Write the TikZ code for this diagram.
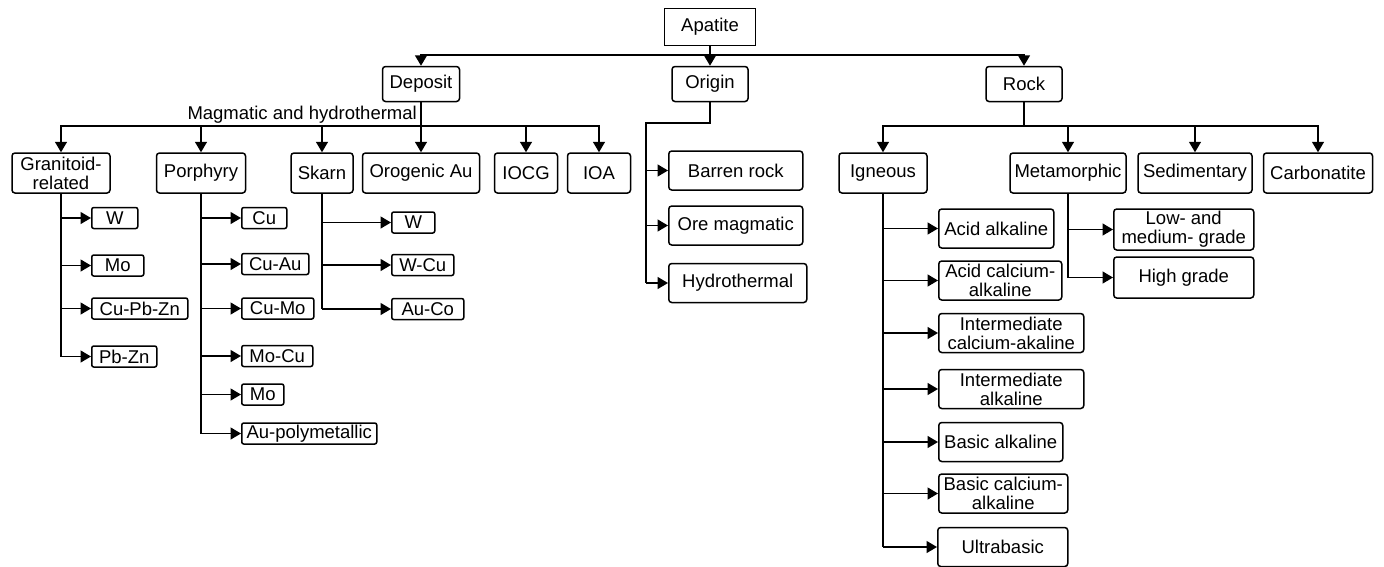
\documentclass[tikz,border=0pt]{standalone}
\usepackage{fontspec}
\setmainfont{Liberation Sans}
\usetikzlibrary{arrows.meta}
\tikzset{
  root/.style={draw, line width=1.5pt, minimum height=37, inner sep=1},
  cat/.style={draw, line width=1.5pt, rounded corners=3, minimum height=35, inner sep=1},
  kind/.style={draw, line width=1.5pt, rounded corners=3, minimum height=40, inner sep=1, align=center},
  sub/.style={draw, line width=1.5pt, rounded corners=3, minimum height=39, inner sep=1, align=center, anchor=west},
  leaf/.style={draw, line width=1.5pt, rounded corners=2, minimum height=21, inner sep=1, anchor=west},
  link/.style={line width=1.5pt},
  arr/.style={link, -{Triangle[length=10.5pt,width=12pt]}},
}
\begin{document}
\begin{tikzpicture}[x=1pt,y=-1pt,font=\fontsize{18.5}{19}\selectfont]
\useasboundingbox (0,0) rectangle (1384,566);
% top levels
\node[root, minimum width=91] (apatite) at (710,27) {Apatite};
\node[cat, minimum width=77] (deposit) at (421,84) {Deposit};
\node[cat, minimum width=76] (origin) at (710,84) {Origin};
\node[cat, minimum width=76] (rock) at (1024,84) {Rock};
\coordinate (topbar) at (710,55);
\draw[link] (apatite) -- (topbar);
\draw[arr] (topbar) -| (deposit);
\draw[arr] (topbar) -- (origin);
\draw[arr] (topbar) -| (rock);
% deposit types
\node[anchor=base east, inner sep=0] (magma) at (417,119) {Magmatic and hydrothermal};
\node[kind, minimum width=98] (granitoid) at (61,173) {Granitoid-\\related};
\node[kind, minimum width=89] (porphyry) at (201,173) {Porphyry};
\node[kind, minimum width=62] (skarn) at (322,173) {Skarn};
\node[kind, minimum width=117] (orogenic) at (421,173) {Orogenic Au};
\node[kind, minimum width=63] (iocg) at (526,173) {IOCG};
\node[kind, minimum width=63] (ioa) at (599,173) {IOA};
\coordinate (depbar) at (421,126);
\draw[link] (deposit) -- (depbar);
\foreach \n in {granitoid,porphyry,skarn,orogenic,iocg,ioa}
  \draw[arr] (depbar) -| (\n);
% granitoid-related
\node[leaf, minimum width=46] (gW) at (91,218) {W};
\node[leaf, minimum width=52] (gMo) at (91,265.5) {Mo};
\node[leaf, minimum width=96] (gCuPbZn) at (91,308.5) {Cu-Pb-Zn};
\node[leaf, minimum width=65] (gPbZn) at (91,356.5) {Pb-Zn};
\draw[link] (granitoid) -- (granitoid |- gPbZn.west);
\foreach \n in {gW,gMo,gCuPbZn,gPbZn}
  \draw[arr] (granitoid |- \n.west) -- (\n.west);
% porphyry
\node[leaf, minimum width=45] (pCu) at (241,218) {Cu};
\node[leaf, minimum width=67] (pCuAu) at (241,264) {Cu-Au};
\node[leaf, minimum width=72] (pCuMo) at (241,308.5) {Cu-Mo};
\node[leaf, minimum width=71] (pMoCu) at (241,356) {Mo-Cu};
\node[leaf, minimum width=42] (pMo) at (241,394.5) {Mo};
\node[leaf, minimum width=135] (pAu) at (241,433.5) {Au-polymetallic};
\draw[link] (porphyry) -- (porphyry |- pAu.west);
\foreach \n in {pCu,pCuAu,pCuMo,pMoCu,pMo,pAu}
  \draw[arr] (porphyry |- \n.west) -- (\n.west);
% skarn
\node[leaf, minimum width=43] (sW) at (391,222.5) {W};
\node[leaf, minimum width=62] (sWCu) at (391,265) {W-Cu};
\node[leaf, minimum width=72] (sAuCo) at (391,309) {Au-Co};
\draw[link] (skarn) -- (skarn |- sAuCo.west);
\foreach \n in {sW,sWCu,sAuCo}
  \draw[arr] (skarn |- \n.west) -- (\n.west);
% origin
\node[sub, minimum width=134] (barren) at (668,170.5) {Barren rock};
\node[sub, minimum width=134] (oremag) at (668,225.5) {Ore magmatic};
\node[sub, minimum width=138] (hydro) at (668,283) {Hydrothermal};
\coordinate (orgbend) at (646,123);
\draw[link] (origin) |- (orgbend) -- (orgbend |- hydro.west);
\foreach \n in {barren,oremag,hydro}
  \draw[arr] (orgbend |- \n.west) -- (\n.west);
% rock types
\node[kind, minimum width=88] (igneous) at (883,173) {Igneous};
\node[kind, minimum width=116] (metamorphic) at (1068,173) {Metamorphic};
\node[kind, minimum width=114] (sedimentary) at (1195,173) {Sedimentary};
\node[kind, minimum width=109] (carbonatite) at (1318,173) {Carbonatite};
\coordinate (rockbar) at (1024,126);
\draw[link] (rock) -- (rockbar);
\foreach \n in {igneous,metamorphic,sedimentary,carbonatite}
  \draw[arr] (rockbar) -| (\n);
% igneous
\node[sub, minimum width=115] (acidalk) at (938,228.5) {Acid alkaline};
\node[sub, minimum width=123] (acidcalc) at (938,280.5) {Acid calcium-\\alkaline};
\node[sub, minimum width=145] (intcalc) at (938,333) {Intermediate\\calcium-akaline};
\node[sub, minimum width=145] (intalk) at (938,389) {Intermediate\\alkaline};
\node[sub, minimum width=124] (basalk) at (938,442) {Basic alkaline};
\node[sub, minimum width=129] (bascalc) at (938,493.5) {Basic calcium-\\alkaline};
\node[sub, minimum width=130] (ultra) at (937,547) {Ultrabasic};
\draw[link] (igneous) -- (igneous |- ultra.west);
\foreach \n in {acidalk,acidcalc,intcalc,intalk,basalk,bascalc,ultra}
  \draw[arr] (igneous |- \n.west) -- (\n.west);
% metamorphic
\node[sub, minimum width=140, minimum height=41] (lowmed) at (1113,229.5) {Low- and\\medium- grade};
\node[sub, minimum width=140, minimum height=41] (highgr) at (1113,277.5) {High grade};
\draw[link] (metamorphic) -- (metamorphic |- highgr.west);
\foreach \n in {lowmed,highgr}
  \draw[arr] (metamorphic |- \n.west) -- (\n.west);
\end{tikzpicture}
\end{document}
